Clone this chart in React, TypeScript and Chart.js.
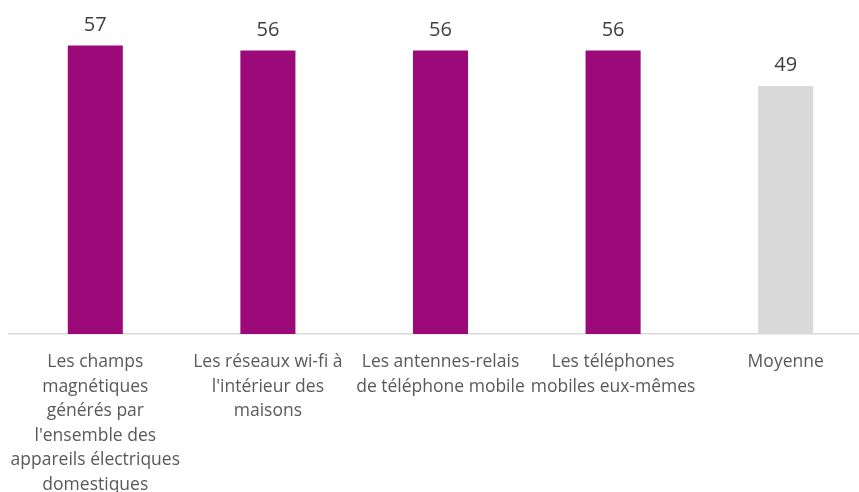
import React, { useEffect, useRef } from "react";
import { Chart, registerables } from "chart.js";

Chart.register(...registerables);

const categories: string[][] = [
  ["Les champs", "magnétiques", "générés par", "l'ensemble des", "appareils électriques", "domestiques"],
  ["Les réseaux wi-fi à", "l'intérieur des", "maisons"],
  ["Les antennes-relais", "de téléphone mobile"],
  ["Les téléphones", "mobiles eux-mêmes"],
  ["Moyenne"],
];
const values: number[] = [57, 56, 56, 56, 49];
const barColors: string[] = ["#9C0A79", "#9C0A79", "#9C0A79", "#9C0A79", "#D9D9D9"];

const FONT = "'Open Sans', 'Noto Sans', sans-serif";

const valueLabels = {
  id: "valueLabels",
  afterDatasetsDraw(chart: any) {
    const ctx = chart.ctx;
    const meta = chart.getDatasetMeta(0);
    ctx.save();
    ctx.font = `20px ${FONT}`;
    ctx.fillStyle = "#404040";
    ctx.textAlign = "center";
    ctx.textBaseline = "alphabetic";
    meta.data.forEach((bar: any, i: number) => {
      ctx.fillText(String(values[i]), bar.x, bar.y - 15);
    });
    ctx.restore();
  },
};

export default function App() {
  const ref = useRef<HTMLCanvasElement | null>(null);
  useEffect(() => {
    document.body.style.overflow = "hidden";
    const chart = new Chart(ref.current as HTMLCanvasElement, {
      type: "bar",
      data: {
        labels: categories,
        datasets: [
          {
            data: values,
            backgroundColor: barColors,
            borderWidth: 0,
            categoryPercentage: 1,
            barPercentage: 0.319,
          },
        ],
      },
      options: {
        animation: false,
        responsive: false,
        maintainAspectRatio: false,
        layout: { padding: { left: 9, right: 10, top: 0, bottom: 0 } },
        plugins: { legend: { display: false }, tooltip: { enabled: false } },
        scales: {
          x: {
            afterFit: (scale: any) => {
              scale.paddingLeft = 0;
              scale.paddingRight = 0;
            },
            grid: { display: false, drawTicks: false },
            border: { display: true, color: "#D9D9D9", width: 1.5 },
            ticks: {
              autoSkip: false,
              maxRotation: 0,
              minRotation: 0,
              padding: 16,
              color: "#595959",
              font: { family: FONT, size: 17.5, lineHeight: "24.5px" },
            },
          },
          y: { display: false, min: 0, max: 66 },
        },
      },
      plugins: [valueLabels],
    });
    return () => chart.destroy();
  }, []);
  return (
    <div style={{ position: "absolute", left: 0, top: 0, width: 882, height: 513 }}>
      <canvas ref={ref} width={882} height={513} style={{ width: 882, height: 513 }} />
    </div>
  );
}
